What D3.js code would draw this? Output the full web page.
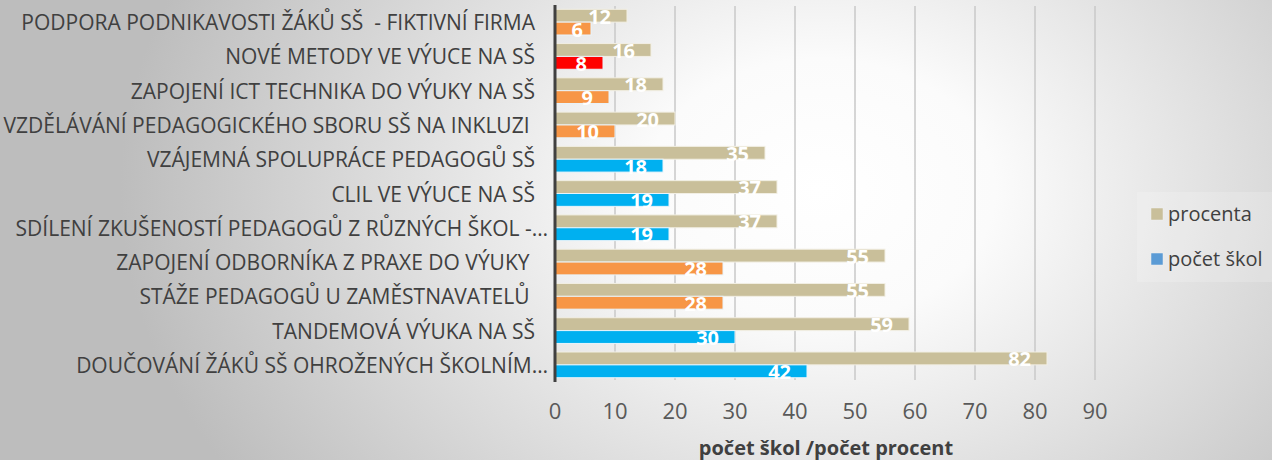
<!DOCTYPE html>
<html>
<head>
<meta charset="utf-8">
<script src="https://cdn.jsdelivr.net/npm/d3@7"></script>
<style>
  html, body { margin: 0; padding: 0; }
  body { width: 1272px; height: 460px; overflow: hidden; }
  text { font-family: "Open Sans", sans-serif; }
</style>
</head>
<body>
<div id="chart"></div>
<script>
var categories = [
  'PODPORA PODNIKAVOSTI ŽÁKŮ SŠ  - FIKTIVNÍ FIRMA',
  'NOVÉ METODY VE VÝUCE NA SŠ',
  'ZAPOJENÍ ICT TECHNIKA DO VÝUKY NA SŠ',
  'VZDĚLÁVÁNÍ PEDAGOGICKÉHO SBORU SŠ NA INKLUZI ',
  'VZÁJEMNÁ SPOLUPRÁCE PEDAGOGŮ SŠ',
  'CLIL VE VÝUCE NA SŠ',
  'SDÍLENÍ ZKUŠENOSTÍ PEDAGOGŮ Z RŮZNÝCH ŠKOL -…',
  'ZAPOJENÍ ODBORNÍKA Z PRAXE DO VÝUKY ',
  'STÁŽE PEDAGOGŮ U ZAMĚSTNAVATELŮ ',
  'TANDEMOVÁ VÝUKA NA SŠ',
  'DOUČOVÁNÍ ŽÁKŮ SŠ OHROŽENÝCH ŠKOLNÍM…'
];
var procenta = [12, 16, 18, 20, 35, 37, 37, 55, 55, 59, 82];
var pocetSkol = [6, 8, 9, 10, 18, 19, 19, 28, 28, 30, 42];
// barva sloupce "počet škol" podle kategorie
var pocetColors = ['orange', 'red', 'orange', 'orange', 'blue', 'blue', 'blue', 'orange', 'orange', 'blue', 'blue'];
var ticks = [0, 10, 20, 30, 40, 50, 60, 70, 80, 90];
var seriesNames = ['procenta', 'počet škol'];

var width = 1272,
    height = 460;

var palette = { orange: '#F79646', red: '#FF0000', blue: '#00B0F0' };
var tan = '#C9BF9A';

var svg = d3.select('#chart')
  .append('svg')
  .attr('width', width)
  .attr('height', height);

// background gradient
var defs = svg.append('defs');
var grad = defs.append('radialGradient')
  .attr('id', 'bg')
  .attr('gradientUnits', 'userSpaceOnUse')
  .attr('cx', 820).attr('cy', 190).attr('r', 700)
  .attr('gradientTransform', 'translate(820,190) scale(1,0.75) translate(-820,-190)');
grad.append('stop').attr('offset', '0%').attr('stop-color', '#ffffff');
grad.append('stop').attr('offset', '25%').attr('stop-color', '#fbfbfb');
grad.append('stop').attr('offset', '100%').attr('stop-color', '#bdbdbd');

svg.append('rect')
  .attr('width', width).attr('height', height)
  .attr('fill', 'url(#bg)');

var x = d3.scaleLinear().domain([0, 90]).range([555, 1095]);
var y = d3.scaleBand().domain(categories).range([5, 382]).paddingInner(0.25).paddingOuter(0.125);
var sub = d3.scaleBand().domain(seriesNames).range([0, y.bandwidth()]);

// gridlines
svg.append('g')
  .selectAll('line')
  .data(ticks.slice(1))
  .enter()
  .append('line')
  .attr('x1', function(d) { return x(d) }).attr('x2', function(d) { return x(d) })
  .attr('y1', 6).attr('y2', 380)
  .attr('stroke', '#c8c8c8')
  .attr('stroke-width', 1.5);

// tick labels
svg.append('g')
  .selectAll('text')
  .data(ticks)
  .enter()
  .append('text')
  .attr('x', function(d) { return x(d) })
  .attr('y', 419)
  .attr('text-anchor', 'middle')
  .attr('font-size', 22)
  .attr('fill', '#595959')
  .text(function(d) { return d });

// bars
var groups = svg.append('g')
  .selectAll('g')
  .data(categories)
  .enter()
  .append('g')
  .attr('transform', function(d) { return 'translate(0,' + y(d) + ')' });

groups.append('rect')
  .attr('x', x(0))
  .attr('y', sub('procenta'))
  .attr('width', function(d, i) { return x(procenta[i]) - x(0) })
  .attr('height', sub.bandwidth())
  .attr('fill', tan)
  .attr('stroke', '#f2efe4')
  .attr('stroke-width', 1);

groups.append('rect')
  .attr('x', x(0))
  .attr('y', sub('počet škol'))
  .attr('width', function(d, i) { return x(pocetSkol[i]) - x(0) })
  .attr('height', sub.bandwidth())
  .attr('fill', function(d, i) { return palette[pocetColors[i]] })
  .attr('stroke', '#e8f4fb')
  .attr('stroke-width', 1);

// value labels
var labelX = function(v) { return Math.max(x(v) - 16, x(0) + 28) };

groups.append('text')
  .attr('x', function(d, i) { return labelX(procenta[i]) })
  .attr('y', sub('procenta') + sub.bandwidth() / 2 + 8)
  .attr('text-anchor', 'end')
  .attr('font-size', 20)
  .attr('font-weight', 'bold')
  .attr('fill', '#ffffff')
  .text(function(d, i) { return procenta[i] });

groups.append('text')
  .attr('x', function(d, i) { return labelX(pocetSkol[i]) })
  .attr('y', sub('počet škol') + sub.bandwidth() / 2 + 8)
  .attr('text-anchor', 'end')
  .attr('font-size', 20)
  .attr('font-weight', 'bold')
  .attr('fill', '#ffffff')
  .text(function(d, i) { return pocetSkol[i] });

// category labels (truncated ones sit a bit further right)
svg.append('g')
  .selectAll('text')
  .data(categories)
  .enter()
  .append('text')
  .attr('x', function(d) { return d.slice(-1) === '…' ? 548 : 535 })
  .attr('y', function(d) { return y(d) + y.bandwidth() / 2 + 8 })
  .attr('text-anchor', 'end')
  .attr('font-size', 21)
  .attr('fill', '#404040')
  .attr('xml:space', 'preserve')
  .style('white-space', 'pre')
  .text(function(d) { return d });

// axis line
svg.append('line')
  .attr('x1', x(0)).attr('x2', x(0))
  .attr('y1', 5).attr('y2', 382)
  .attr('stroke', '#404040')
  .attr('stroke-width', 3);

// axis title
svg.append('text')
  .attr('x', 826)
  .attr('y', 455)
  .attr('text-anchor', 'middle')
  .attr('font-size', 20)
  .attr('font-weight', 'bold')
  .attr('fill', '#404040')
  .text('počet škol /počet procent');

// legend
var legend = svg.append('g');
legend.append('rect')
  .attr('x', 1137).attr('y', 192)
  .attr('width', 135).attr('height', 90)
  .attr('fill', '#ffffff').attr('fill-opacity', 0.18);

var legendColors = [tan, '#5B9BD5'];
var legendItems = legend.selectAll('g')
  .data(seriesNames)
  .enter()
  .append('g')
  .attr('transform', function(d, i) { return 'translate(1151,' + (208 + i * 45) + ')' });

legendItems.append('rect')
  .attr('width', 12).attr('height', 12)
  .attr('fill', function(d, i) { return legendColors[i] })
  .attr('stroke', '#eeeeee').attr('stroke-width', 0.5);

legendItems.append('text')
  .attr('x', 17).attr('y', 13)
  .attr('font-size', 20)
  .attr('fill', '#404040')
  .text(function(d) { return d });
</script>
</body>
</html>
